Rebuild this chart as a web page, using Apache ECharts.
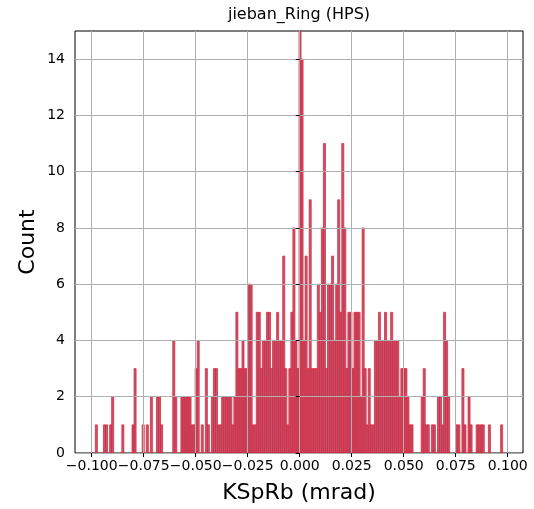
<!DOCTYPE html>
<html><head><meta charset="utf-8">
<script src="https://cdn.jsdelivr.net/npm/echarts@6/dist/echarts.min.js"></script>
<style>html,body{margin:0;padding:0;background:#fff}#c{width:534px;height:509px}</style>
</head><body><div id="c"></div>
<script>
const chartTitle = 'jieban_Ring (HPS)';
const xName = 'KSpRb (mrad)';
const yName = 'Count';
// histogram bins: 200 equal bins between data min and max
const binStart = -0.09824;
const binEnd = 0.09757;
const counts = [
1,0,0,0,1,1,0,1,2,0, 0,0,0,1,0,0,0,0,1,3,
0,0,0,1,0,1,0,2,0,0, 2,2,1,0,0,0,0,0,4,2,
0,0,2,2,2,2,2,1,1,3, 4,0,1,0,3,1,0,2,3,3,
1,1,2,2,2,2,2,1,2,5, 3,3,4,3,3,6,6,1,1,5,
5,3,4,4,5,5,3,4,4,5, 4,4,7,3,1,3,5,8,4,3,
15,14,4,7,3,9,3,3,3,6, 5,8,11,3,6,6,7,4,6,9,
5,11,8,3,5,5,3,5,5,5, 2,8,3,1,3,1,1,4,4,5,
4,4,5,4,4,5,4,4,4,2, 3,3,3,2,1,1,0,0,0,0,
2,3,1,1,0,1,1,0,2,2, 1,5,4,2,0,0,0,1,1,0,
3,1,0,2,1,0,0,1,1,1, 1,0,0,1,0,0,0,0,0,1
];
const xTicks = [-0.1, -0.075, -0.05, -0.025, 0, 0.025, 0.05, 0.075, 0.1];
const yTicks = [0, 2, 4, 6, 8, 10, 12, 14];
const xRange = [-0.10803, 0.10736];
const yRange = [0, 15];

const binWidth = (binEnd - binStart) / counts.length;
const histData = counts.map((c, i) => [binStart + (i + 0.5) * binWidth, c, i]);

const fontFam = 'DejaVu Sans';
const fmtX = v => {
  const s = Math.abs(v) < 1e-12 ? '0.000' : Math.abs(v).toFixed(3);
  return (v < -1e-12 ? '\u2212' : '') + s;
};

const chart = echarts.init(document.getElementById('c'), null, {renderer: 'canvas'});
chart.setOption({
  animation: false,
  backgroundColor: '#ffffff',
  grid: {left: 75, right: 11, top: 31, bottom: 56, show: true, borderColor: '#000', borderWidth: 1, backgroundColor: 'transparent', containLabel: false},
  xAxis: {
    type: 'value', min: xRange[0], max: xRange[1], z: 5,
    axisLine: {show: false},
    axisTick: {show: true, customValues: xTicks, length: 4, lineStyle: {color: '#000', width: 1}},
    axisLabel: {show: true, customValues: xTicks, formatter: fmtX, color: '#000', fontFamily: fontFam, fontSize: 14, margin: 6},
    splitLine: {show: true, lineStyle: {color: '#b0b0b0', width: 1}}
  },
  yAxis: {
    type: 'value', min: yRange[0], max: yRange[1], z: 5,
    axisLine: {show: false},
    axisTick: {show: true, customValues: yTicks, length: 4, lineStyle: {color: '#000', width: 1}},
    axisLabel: {show: true, customValues: yTicks, color: '#000', fontFamily: fontFam, fontSize: 14, margin: 10},
    splitLine: {show: true, lineStyle: {color: '#b0b0b0', width: 1}}
  },
  graphic: [
    {type: 'text', x: 299, y: 15, z: 10, style: {text: chartTitle, font: '16px "DejaVu Sans"', fill: '#000', align: 'center', verticalAlign: 'middle'}},
    {type: 'text', x: 299, y: 493, z: 10, style: {text: xName, font: '22px "DejaVu Sans"', fill: '#000', align: 'center', verticalAlign: 'middle'}},
    {type: 'text', x: 28, y: 242, rotation: Math.PI / 2, z: 10, style: {text: yName, font: '22px "DejaVu Sans"', fill: '#000', align: 'center', verticalAlign: 'middle'}}
  ],
  series: [{
    type: 'custom', z: 2, clip: true,
    encode: {x: 0, y: 1},
    data: histData,
    renderItem: function (params, api) {
      const c = api.value(1);
      if (!c) return null;
      const center = api.value(0);
      const p0 = api.coord([center - binWidth / 2, c]);
      const p1 = api.coord([center + binWidth / 2, 0]);
      return {
        type: 'rect',
        shape: {x: p0[0], y: p0[1], width: p1[0] - p0[0], height: p1[1] - p0[1]},
        style: {fill: 'rgba(165,75,110,0.9)', stroke: 'rgba(238,30,45,0.75)', lineWidth: 1}
      };
    }
  }]
});
</script></body></html>
